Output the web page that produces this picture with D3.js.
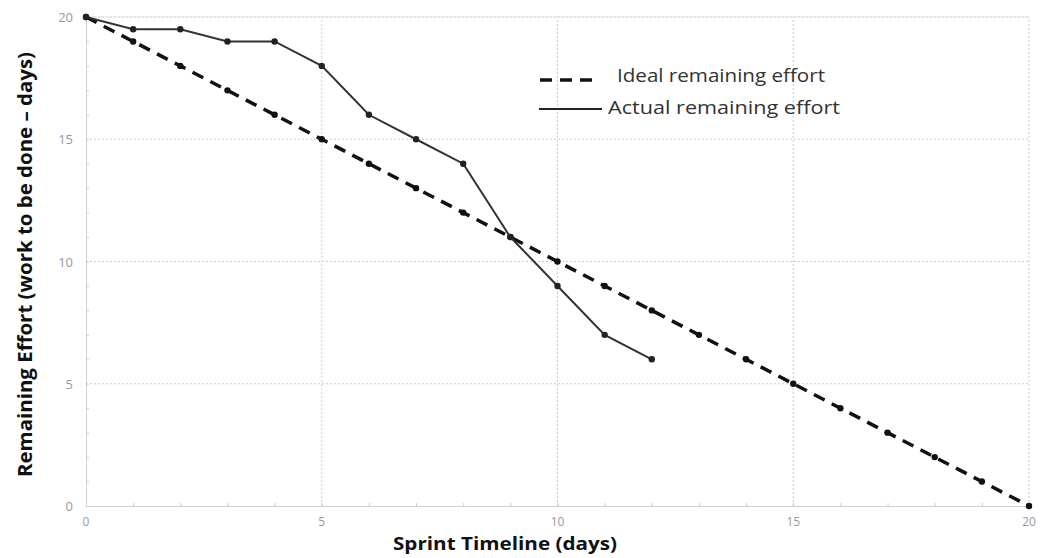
<!DOCTYPE html>
<html><head><meta charset="utf-8">
<script src="https://cdn.jsdelivr.net/npm/d3@7"></script>
<style>body{margin:0;background:#fff}svg{display:block}</style>
</head><body><svg id="c" width="1040" height="558"></svg>
<script>
const idealDays = [0,1,2,3,4,5,6,7,8,9,10,11,12,13,14,15,16,17,18,19,20];
const idealValues = [20,19,18,17,16,15,14,13,12,11,10,9,8,7,6,5,4,3,2,1,0];
const actualDays = [0,1,2,3,4,5,6,7,8,9,10,11,12];
const actualValues = [20,19.5,19.5,19,19,18,16,15,14,11,9,7,6];
const xTicks = [0,5,10,15,20];
const yTicks = [0,5,10,15,20];
const legendLabels = ["Ideal remaining effort","Actual remaining effort"];

const svg = d3.select("#c");
const x = d3.scaleLinear().domain([0,20]).range([86,1029]);
const y = d3.scaleLinear().domain([0,20]).range([506,17]);
const font = "'Open Sans', 'Liberation Sans', sans-serif";

// gridlines
const grid = svg.append("g");
grid.selectAll("line.v").data(xTicks.filter(d=>d>0)).join("line")
  .attr("x1",d=>x(d)).attr("x2",d=>x(d)).attr("y1",y(0)).attr("y2",y(20))
  .attr("stroke","#c8cbd8").attr("stroke-width",1).attr("stroke-dasharray","2,2");
grid.selectAll("line.h").data(yTicks.filter(d=>d>0)).join("line")
  .attr("y1",d=>y(d)).attr("y2",d=>y(d)).attr("x1",x(0)).attr("x2",x(20))
  .attr("stroke","#c8cbd8").attr("stroke-width",1).attr("stroke-dasharray","2,2");
svg.append("line").attr("x1",x(0)).attr("x2",x(20)).attr("y1",y(20)).attr("y2",y(20))
  .attr("stroke","#e2e2e2");

// axes
const xAxis = svg.append("g").attr("transform",`translate(0,${y(0)})`)
  .call(d3.axisBottom(x).tickValues(d3.range(0,21)).tickSize(-3).tickFormat(""));
xAxis.select(".domain").attr("stroke","#cfcfcf");
xAxis.selectAll(".tick line").attr("stroke","#cfcfcf");
const yAxis = svg.append("g").attr("transform",`translate(${x(0)},0)`)
  .call(d3.axisLeft(y).tickValues(d3.range(0,21)).tickSize(-3).tickFormat(""));
yAxis.select(".domain").attr("stroke","#cfcfcf");
yAxis.selectAll(".tick line").attr("stroke","#cfcfcf");

// tick labels
svg.append("g").selectAll("text").data(xTicks).join("text")
  .attr("x",d=>x(d)).attr("y",y(0)+20).attr("text-anchor","middle")
  .attr("font-family",font).attr("font-size",12).attr("fill","#999").text(d=>d);
svg.append("g").selectAll("text").data(yTicks).join("text")
  .attr("x",x(0)-13).attr("y",d=>y(d)+5).attr("text-anchor","end")
  .attr("font-family",font).attr("font-size",13).attr("fill","#999").text(d=>d);

// axis titles
svg.append("text").attr("x",393).attr("y",550)
  .attr("textLength",224).attr("lengthAdjust","spacingAndGlyphs")
  .attr("font-family",font).attr("font-size",18).attr("font-weight","bold").attr("fill","#111")
  .text("Sprint Timeline (days)");
svg.append("text").attr("transform","translate(32,477) rotate(-90)")
  .attr("textLength",425).attr("lengthAdjust","spacingAndGlyphs")
  .attr("font-family",font).attr("font-size",19).attr("font-weight","bold").attr("fill","#111")
  .text("Remaining Effort (work to be done – days)");

const line = d3.line().x(d=>x(d[0])).y(d=>y(d[1]));
const ideal = idealDays.map((d,i)=>[d,idealValues[i]]);
const actual = actualDays.map((d,i)=>[d,actualValues[i]]);

svg.append("path").datum(ideal).attr("d",line).attr("fill","none")
  .attr("stroke","#111").attr("stroke-width",3.5).attr("stroke-dasharray","12,8");
svg.append("g").selectAll("circle").data(ideal).join("circle")
  .attr("cx",d=>x(d[0])).attr("cy",d=>y(d[1])).attr("r",3.2).attr("fill","#111");

svg.append("path").datum(actual).attr("d",line).attr("fill","none")
  .attr("stroke","#333").attr("stroke-width",2);
svg.append("g").selectAll("circle").data(actual).join("circle")
  .attr("cx",d=>x(d[0])).attr("cy",d=>y(d[1])).attr("r",3.2).attr("fill","#222");

// legend
const lg = svg.append("g");
lg.append("line").attr("x1",540).attr("x2",597).attr("y1",80).attr("y2",80)
  .attr("stroke","#111").attr("stroke-width",3.5).attr("stroke-dasharray","12,8");
lg.append("line").attr("x1",539).attr("x2",602).attr("y1",109).attr("y2",109)
  .attr("stroke","#222").attr("stroke-width",2);
lg.append("text").attr("x",617).attr("y",82).attr("font-family",font).attr("font-size",18)
  .attr("textLength",208).attr("lengthAdjust","spacingAndGlyphs")
  .attr("fill","#333").text(legendLabels[0]);
lg.append("text").attr("x",608).attr("y",114).attr("font-family",font).attr("font-size",18)
  .attr("textLength",232).attr("lengthAdjust","spacingAndGlyphs")
  .attr("fill","#333").text(legendLabels[1]);
</script></body></html>
